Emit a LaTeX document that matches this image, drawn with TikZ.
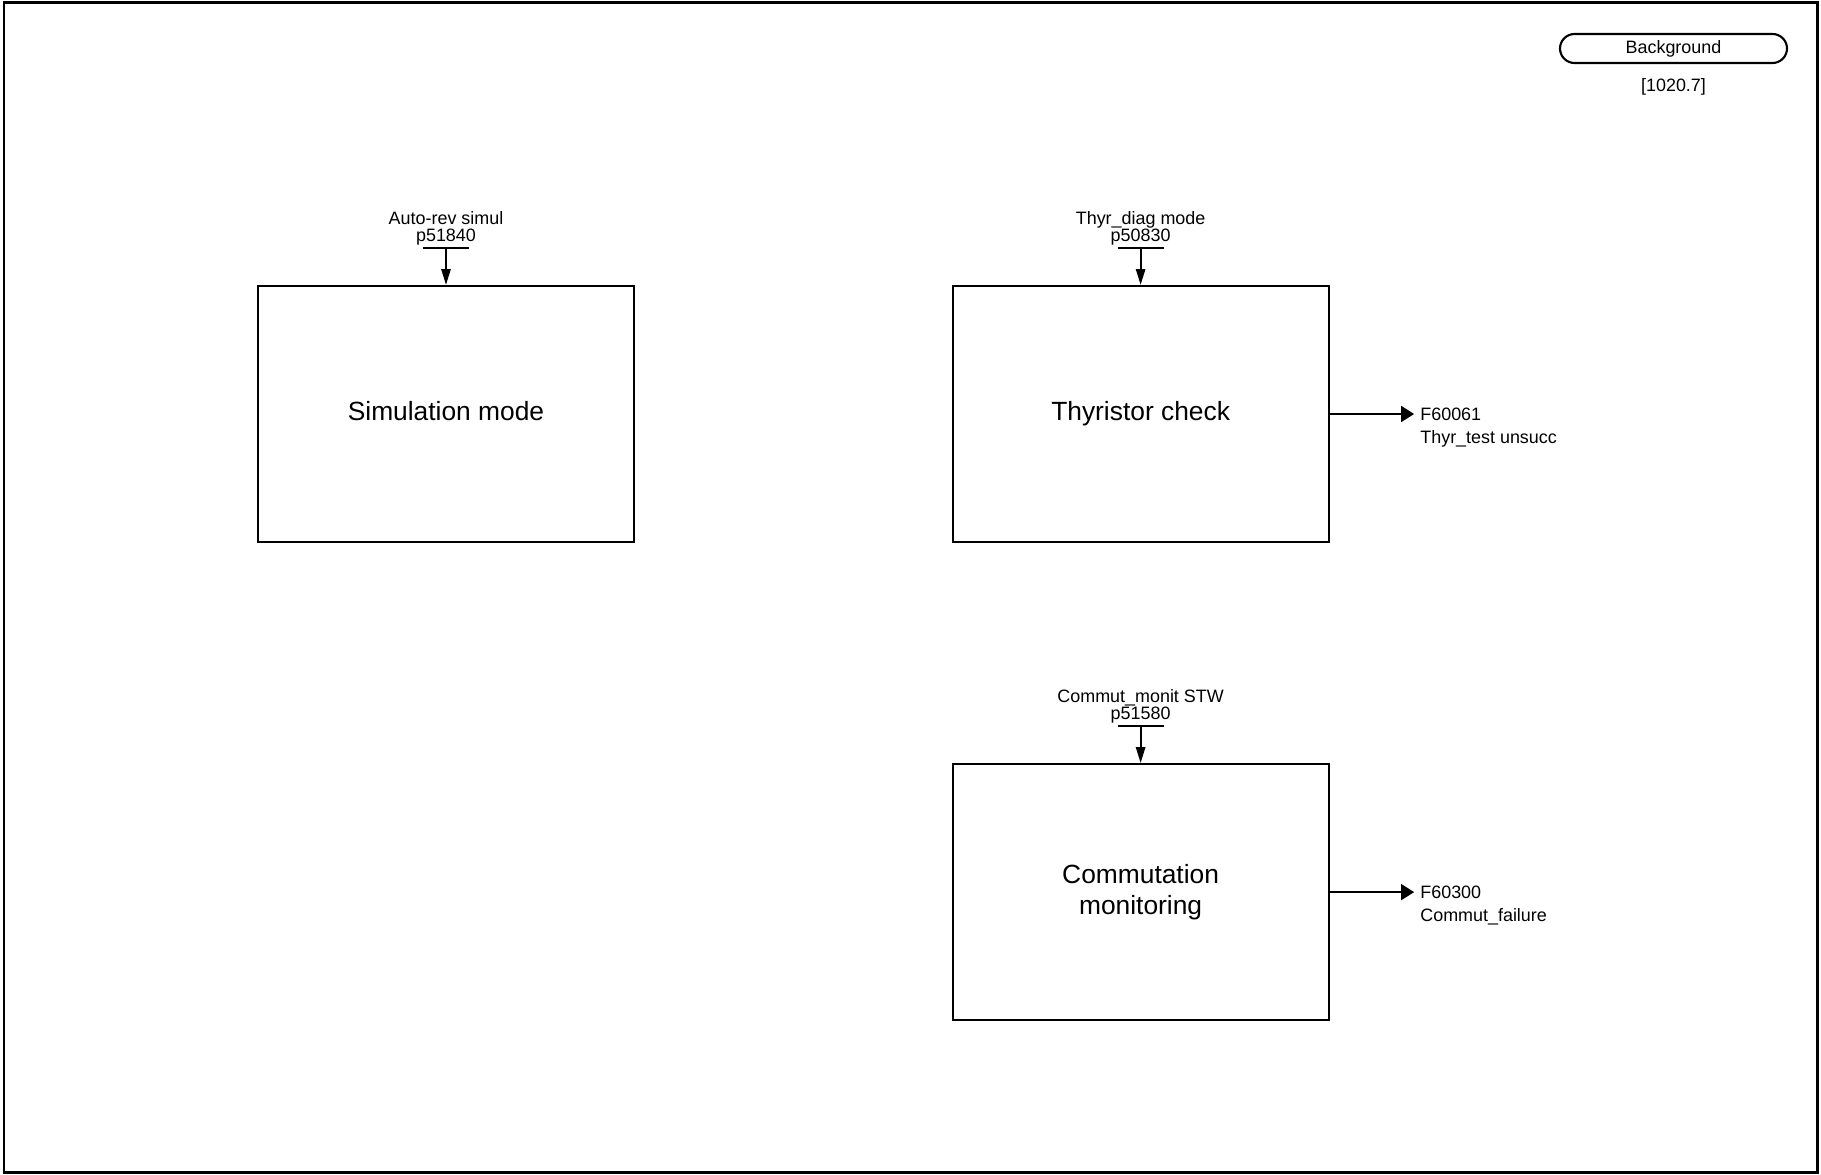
\documentclass[tikz,border=0pt]{standalone}
\usepackage{fontspec}
\setmainfont{Liberation Sans}
\usetikzlibrary{positioning, arrows.meta}

\tikzset{
    block/.style={draw, line width=0.6pt, minimum width=3.76cm, minimum height=2.56cm,
        align=center, text depth=1.6pt, font=\fontsize{7.5}{8.9}\selectfont},
    lbl/.style={inner sep=0pt, align=center, font=\fontsize{5.1}{4.8}\selectfont},
    outlbl/.style={inner sep=0pt, align=left, font=\fontsize{5.1}{6.6}\selectfont},
    inarrow/.style={line width=0.6pt, -{Triangle[length=4.5pt, width=2.6pt]}},
    outarrow/.style={line width=0.6pt, -{Triangle[length=3.7pt, width=4.5pt]}},
    parbar/.style={line width=0.6pt},
    badge/.style={draw, line width=0.6pt, rounded corners=0.145cm, minimum width=2.27cm,
        minimum height=0.29cm, inner sep=0pt, font=\fontsize{5.1}{6}\selectfont}
}

\begin{document}
\begin{tikzpicture}
\useasboundingbox (0,0) rectangle (18.21,-11.75);
\draw[line width=0.7pt] (0.04,-0.025) rectangle (18.175,-11.725);

% sheet tag
\node[badge] (bg) at (16.735,-0.485) {Background};
\node[lbl, below=0.14cm of bg] (bgref) {[1020.7]};

% function blocks
\node[block] (sim) at (4.46,-4.14) {Simulation mode};
\node[block, right=3.165cm of sim] (thy) {Thyristor check};
\node[block, below=2.2cm of thy] (com) {Commutation\\monitoring};

% parameter inputs
\coordinate[above=0.37cm of sim] (simin);
\draw[parbar] ([xshift=-0.23cm]simin) -- ([xshift=0.23cm]simin);
\draw[inarrow] (simin) -- (sim);
\node[lbl, above=0.7pt of simin] (simpar) {Auto-rev simul\\p51840};

\coordinate[above=0.37cm of thy] (thyin);
\draw[parbar] ([xshift=-0.23cm]thyin) -- ([xshift=0.23cm]thyin);
\draw[inarrow] (thyin) -- (thy);
\node[lbl, above=0.7pt of thyin] (thypar) {Thyr\_diag mode\\p50830};

\coordinate[above=0.37cm of com] (comin);
\draw[parbar] ([xshift=-0.23cm]comin) -- ([xshift=0.23cm]comin);
\draw[inarrow] (comin) -- (com);
\node[lbl, above=0.7pt of comin] (compar) {Commut\_monit STW\\p51580};

% fault outputs
\coordinate[right=0.845cm of thy] (thyout);
\draw[outarrow] (thy) -- (thyout);
\node[outlbl, right=0.055cm of thyout, yshift=-0.135cm] (thyflt) {F60061\\Thyr\_test unsucc};

\coordinate[right=0.845cm of com] (comout);
\draw[outarrow] (com) -- (comout);
\node[outlbl, right=0.055cm of comout, yshift=-0.135cm] (comflt) {F60300\\Commut\_failure};
\end{tikzpicture}
\end{document}
